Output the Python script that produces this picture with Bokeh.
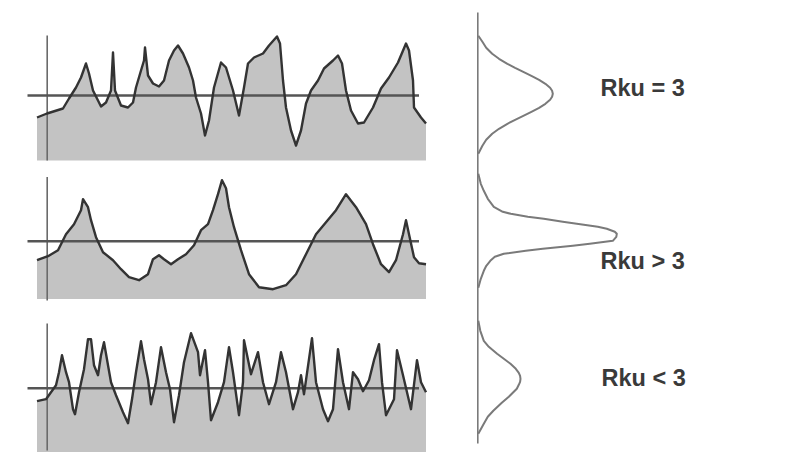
import numpy as np
from bokeh.plotting import figure
from bokeh.models import Range1d
from bokeh.core.properties import value
from bokeh.embed import file_html
from bokeh.resources import INLINE

# ---------------- data ----------------
# Profile 1 (Rku = 3): distance along profile, height relative to mean line
p1_x = [0, 10, 26, 32, 39, 44, 49, 52, 56, 64, 69, 74, 76, 78, 84, 91, 96, 99, 104, 107, 108, 111, 116, 122,
        127, 132, 137, 141, 146, 152, 156, 159, 164, 168, 172, 177, 184, 189, 196, 202, 207, 211, 217, 226,
        232, 240, 243, 246, 249, 254, 259, 264, 269, 274, 281, 287, 296, 301, 305, 309, 314, 321, 327, 336,
        344, 352, 361, 369, 372, 376, 377, 384, 389]
p1_h = [-22, -18, -13, -3, 8, 18, 32, 22, 5, -11, -7, 5, 43, 5, -10, -12, -7, 8, 25, 35, 48, 20, 12, 9,
        15, 35, 45, 50, 42, 28, 15, -2, -18, -40, -25, 8, 33, 28, 5, -20, 8, 32, 38, 42,
        50, 59, 52, 15, -12, -35, -50, -35, -8, 5, 15, 27, 35, 40, 32, 5, -15, -28, -27, -12,
        7, 18, 33, 52, 45, 15, -12, -22, -28]

# Profile 2 (Rku > 3)
p2_x = [0, 11, 21, 29, 37, 44, 46, 51, 54, 59, 66, 76, 84, 92, 102, 111, 116, 122, 127, 134, 141, 149, 157,
        164, 171, 176, 181, 185, 189, 192, 197, 204, 212, 222, 236, 249, 259, 269, 279, 289, 299, 309, 319,
        329, 336, 344, 352, 359, 366, 369, 372, 377, 382, 389]
p2_h = [-19, -15, -9, 7, 17, 31, 42, 34, 21, 4, -11, -19, -28, -36, -39, -33, -18, -14, -18, -23, -18, -13, -4,
        11, 17, 31, 47, 61, 53, 34, 14, -9, -33, -46, -48, -44, -33, -13, 7, 19, 31, 47, 34,
        17, -3, -23, -31, -19, 7, 21, 7, -16, -22, -23]

# Profile 3 (Rku < 3)
p3_x = [0, 9, 14, 19, 22, 25, 29, 32, 36, 38, 42, 47, 51, 54, 57, 61, 64, 67, 71, 74, 79, 86, 91, 95, 99,
        104, 107, 111, 114, 119, 124, 129, 133, 137, 142, 147, 154, 161, 163, 168, 171, 174, 181, 187, 192,
        196, 202, 206, 207, 214, 221, 226, 232, 239, 244, 249, 256, 261, 264, 267, 272, 275, 279, 286, 291,
        296, 301, 306, 312, 316, 321, 326, 332, 337, 342, 345, 349, 354, 357, 360, 366, 374, 380, 384, 389]
p3_h = [-13, -11, -4, 3, 16, 33, 16, 6, -21, -26, -4, 19, 49, 49, 23, 13, 33, 46, 23, 6, -7, -24, -35, -11, 16,
        47, 29, 9, -16, 6, 41, 16, -1, -34, -7, 26, 55, 36, 13, 38, 6, -32, -14, 6, 41,
        16, -27, 6, 48, 14, 36, 6, -16, 6, 36, 16, -21, -4, 13, -6, 29, 50, 6, -21, -33,
        -21, 39, 6, -21, 16, 9, -3, 8, 28, 44, 6, -27, -17, -11, 38, 13, -21, 28, 6, -4]

# Height distributions: offset from curve centre, density width
d1_dy = [-58, -52, -46, -40, -35, -30, -26, -22, -18, -14, -10, -6, -3, 0, 3, 6, 10, 14, 18, 22, 26, 30, 35, 40, 46, 52, 60]
d1_w = [0.5, 4.6, 8.4, 14.4, 21.2, 29.6, 37.3, 45.5, 53.6, 61.3, 67.6, 72.3, 74.3, 75, 74.3, 72.3, 67.6, 61.3, 53.6,
        45.5, 37.3, 29.6, 21.2, 14.4, 8.4, 4.6, 0.5]
d2_dy = [-60, -50, -43, -35, -27, -22, -20, -17, -15, -12, -10, -7, -5, -2, 0, 3, 7, 10, 12, 15, 17, 20, 23, 27, 32, 37, 45, 54]
d2_w = [0.5, 3, 6, 10, 16, 25, 33, 50, 66, 85, 99, 120, 129, 137, 139, 138.5, 135, 112, 95, 65, 48, 26, 17, 12.5,
        8.5, 6, 3, 0.5]
d3_dy = [-58, -48, -38, -32, -25, -20, -15, -10, -6, -3, 0, 3, 6, 10, 14, 18, 24, 32, 38, 45, 55]
d3_w = [0.5, 2.5, 6, 11, 19.3, 26, 32.7, 38, 41, 42.3, 42.7, 42.3, 41, 39, 35, 31, 24, 15.5, 10, 6, 0.5]

labels = ["Rku = 3", "Rku > 3", "Rku < 3"]

# ---------------- layout (screenshot pixel frame) ----------------
W, H = 803, 455
p = figure(width=W, height=H, output_backend="svg", toolbar_location=None,
           x_range=Range1d(0, W), y_range=Range1d(H, 0),
           min_border=0, outline_line_color=None, background_fill_color="white")
p.axis.visible = False
p.grid.visible = False

FILL = "#c3c3c3"
PROF = "#333333"
MEAN = "#555555"
AXC = "#6a6a6a"
DIST = "#7a7a7a"

x0 = 36.5
panels = [
    # x, h, mean_y, bottom_y, axis_top, axis_bottom
    (p1_x, p1_h, 95.0, 160.0, 35.0, 160.0),
    (p2_x, p2_h, 240.7, 298.5, 176.5, 300.0),
    (p3_x, p3_h, 387.7, 451.5, 323.0, 450.0),
]
for xs, hs, my, by, at, ab in panels:
    xx = x0 + np.array(xs, dtype=float)
    yy = my - np.array(hs, dtype=float)
    p.varea(x=xx, y1=np.full(len(xx), by), y2=yy, fill_color=FILL)
    p.segment(x0=[46.7], y0=[at], x1=[46.7], y1=[ab], line_color=AXC, line_width=1.6)
    p.segment(x0=[27], y0=[my], x1=[418.5], y1=[my], line_color=MEAN, line_width=2.5)
    p.line(xx, yy, line_color=PROF, line_width=2.4, line_join="round")

# distribution panel
ax_x = 477.3
p.segment(x0=[ax_x], y0=[12], x1=[ax_x], y1=[443], line_color=DIST, line_width=1.6)
for dys, ws, cy in [(d1_dy, d1_w, 93.3), (d2_dy, d2_w, 233.3), (d3_dy, d3_w, 378.3)]:
    p.line(ax_x + np.array(ws), cy + np.array(dys, dtype=float), line_color=DIST, line_width=2.0,
           line_join="round")

p.text(x=[600, 600, 601], y=[87, 260, 377], text=labels, text_font=value("Liberation Sans"),
       text_font_style="bold", text_font_size="23.5px", text_color="#3a3a3a",
       text_align="left", text_baseline="middle")

open("out.html", "w").write(file_html(p, INLINE))
